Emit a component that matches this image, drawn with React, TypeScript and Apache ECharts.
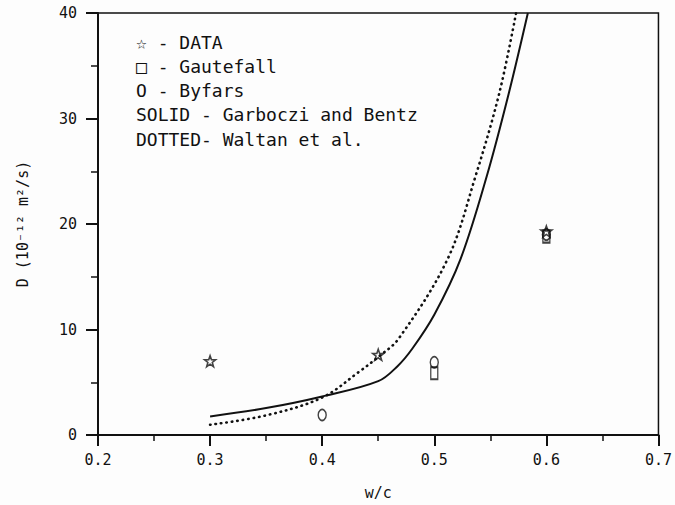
import React, { useEffect, useRef } from "react";
import * as echarts from "echarts";

// ---- data ----
const xTicks = [0.2, 0.3, 0.4, 0.5, 0.6, 0.7];
const yTicks = [0, 10, 20, 30, 40];

const dataStars: [number, number][] = [
  [0.3, 7.0],
  [0.45, 7.6],
  [0.6, 19.3],
];
const gautefallSquares: [number, number][] = [
  [0.5, 5.85],
  [0.6, 18.8],
];
const byfarsCircles: [number, number][] = [
  [0.4, 1.9],
  [0.5, 6.9],
  [0.6, 19.0],
];
const solidGarboczi: [number, number][] = [
  [0.3, 1.76],
  [0.35, 2.55],
  [0.4, 3.65],
  [0.45, 5.1],
  [0.467, 6.5],
  [0.4805, 8.2],
  [0.5, 11.4],
  [0.5235, 16.7],
  [0.547, 24.6],
  [0.5665, 32.4],
  [0.5835, 40],
];
const dottedWaltan: [number, number][] = [
  [0.3, 0.97],
  [0.35, 1.86],
  [0.4, 3.55],
  [0.433, 6.0],
  [0.45, 7.4],
  [0.468, 9.1],
  [0.512, 16.7],
  [0.537, 24.6],
  [0.558, 32.4],
  [0.573, 40],
];
const legendLines = [
  "☆ - DATA",
  "□ - Gautefall",
  "O - Byfars",
  "SOLID - Garboczi and Bentz",
  "DOTTED- Waltan et al.",
];
const xName = "w/c";
const yName = "D (10⁻¹² m²/s)";

const FONT = "DejaVu Sans Mono";
const INK = "#111";

const STAR_PATH =
  "path://M12,0 L14.9,8.1 L23.4,8.2 L16.6,13.3 L19.1,21.5 L12,16.6 L4.9,21.5 L7.4,13.3 L0.6,8.2 L9.1,8.1 Z";

export default function App() {
  const ref = useRef<HTMLDivElement>(null);

  useEffect(() => {
    document.body.style.margin = "0";
    if (!ref.current) return;
    const chart = echarts.init(ref.current, null, { renderer: "svg" });

    const hollow = {
      color: "rgba(0,0,0,0)",
      borderColor: INK,
      borderWidth: 1.6,
    };

    chart.setOption({
      animation: false,
      backgroundColor: "#fdfdfd",
      grid: {
        left: 98,
        right: 15,
        top: 13,
        bottom: 68,
        show: true,
        borderColor: INK,
        borderWidth: 1.5,
        backgroundColor: "transparent",
      },
      xAxis: {
        type: "value",
        min: xTicks[0],
        max: xTicks[xTicks.length - 1],
        interval: 0.1,
        name: xName,
        nameLocation: "middle",
        nameGap: 50,
        nameTextStyle: { fontFamily: FONT, fontSize: 15, color: INK },
        axisLine: { show: true, lineStyle: { color: INK, width: 2 } },
        axisTick: { show: true, length: 11, lineStyle: { color: INK, width: 2 } },
        minorTick: { show: true, splitNumber: 2, length: 6, lineStyle: { color: INK, width: 1.5 } },
        axisLabel: {
          fontFamily: FONT,
          fontSize: 15,
          color: INK,
          margin: 17,
          formatter: (v: number) => v.toFixed(1),
        },
        splitLine: { show: false },
      },
      yAxis: {
        type: "value",
        min: yTicks[0],
        max: yTicks[yTicks.length - 1],
        interval: 10,
        name: yName,
        nameLocation: "middle",
        nameGap: 68,
        nameTextStyle: { fontFamily: FONT, fontSize: 15, color: INK },
        axisLine: { show: true, lineStyle: { color: INK, width: 2 } },
        axisTick: { show: true, length: 12, lineStyle: { color: INK, width: 2 } },
        minorTick: { show: true, splitNumber: 2, length: 7, lineStyle: { color: INK, width: 1.5 } },
        axisLabel: { fontFamily: FONT, fontSize: 15, color: INK, margin: 21 },
        splitLine: { show: false },
      },
      graphic: legendLines.map((t, i) => ({
        type: "text",
        left: 136,
        top: 33 + i * 24.3,
        style: {
          text: t,
          fontFamily: FONT,
          fontSize: 18,
          fill: INK,
        },
      })),
      series: [
        {
          type: "line",
          data: solidGarboczi,
          smooth: 0.35,
          showSymbol: false,
          symbol: "none",
          lineStyle: { color: INK, width: 2 },
          clip: true,
        },
        {
          type: "line",
          data: dottedWaltan,
          smooth: 0.35,
          showSymbol: false,
          symbol: "none",
          lineStyle: { color: INK, width: 2.6, type: [0.5, 5], cap: "round" },
          clip: true,
        },
        {
          type: "scatter",
          data: dataStars,
          symbol: STAR_PATH,
          symbolSize: 11,
          itemStyle: hollow,
        },
        {
          type: "scatter",
          data: gautefallSquares,
          symbol: "rect",
          symbolSize: [7, 12],
          itemStyle: hollow,
        },
        {
          type: "scatter",
          data: byfarsCircles,
          symbol: "circle",
          symbolSize: [8, 11],
          itemStyle: hollow,
        },
      ],
    });

    return () => chart.dispose();
  }, []);

  return (
    <div
      ref={ref}
      style={{ position: "fixed", left: 0, top: 0, width: 675, height: 505 }}
    />
  );
}
